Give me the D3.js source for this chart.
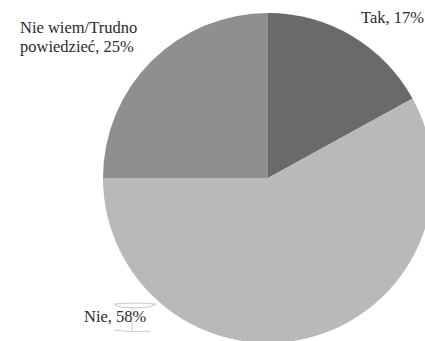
<!DOCTYPE html>
<html>
<head>
<meta charset="utf-8">
<script src="https://cdn.jsdelivr.net/npm/d3@7"></script>
<style>
  html, body { margin: 0; padding: 0; background: #fff; overflow: hidden; }
  svg { display: block; }
  text { font-family: "Liberation Serif", "DejaVu Serif", "Times New Roman", serif; font-size: 16.5px; fill: #2a2a2a; }
</style>
</head>
<body>
<script>
// Survey answers and their shares (%)
const categories = ["Tak", "Nie", "Nie wiem/Trudno powiedzieć"];
const values = [17, 58, 25];
const labels = [["Tak, 17%"], ["Nie, 58%"], ["Nie wiem/Trudno", "powiedzieć, 25%"]];
const colors = ["#6a6a6a", "#b9b9b9", "#8f8f8f"];

const W = 425, H = 341;
const cx = 268, cy = 178, R = 165;

const svg = d3.select("body").append("svg").attr("width", W).attr("height", H);

const pie = d3.pie().sort(null).value(d => d.value);
const arc = d3.arc().innerRadius(0).outerRadius(R);

const data = categories.map((c, i) => ({ name: c, value: values[i], color: colors[i], label: labels[i] }));

const g = svg.append("g").attr("transform", `translate(${cx},${cy})`);
g.selectAll("path.slice")
  .data(pie(data))
  .join("path")
  .attr("class", "slice")
  .attr("d", arc)
  .attr("fill", d => d.data.color);

// Label anchor points relative to the pie centre
const labelPos = {
  "Tak": [361 - cx, 23 - cy],
  "Nie": [84 - cx, 322 - cy],
  "Nie wiem/Trudno powiedzieć": [20 - cx, 33 - cy]
};

g.selectAll("text.lbl")
  .data(pie(data))
  .join("text")
  .attr("class", "lbl")
  .attr("x", d => labelPos[d.data.name][0])
  .attr("y", d => labelPos[d.data.name][1])
  .each(function(d) {
    const t = d3.select(this);
    d.data.label.forEach((line, i) => {
      t.append("tspan")
        .attr("x", labelPos[d.data.name][0])
        .attr("dy", i === 0 ? 0 : 19)
        .text(line);
    });
  });

// Text-edit cursor frame around the "Nie" value label
const cursor = svg.append("g")
  .attr("fill", "none")
  .attr("stroke", "#bdbdbd")
  .attr("stroke-width", 0.8);
cursor.append("path").attr("d", "M114,304 Q135,302 156,304 L149,307 Q134,309 120,307 Z");
cursor.append("path").attr("d", "M132,307 L132,331");
cursor.append("path").attr("d", "M114,330 Q132,333 150,331");
</script>
</body>
</html>
